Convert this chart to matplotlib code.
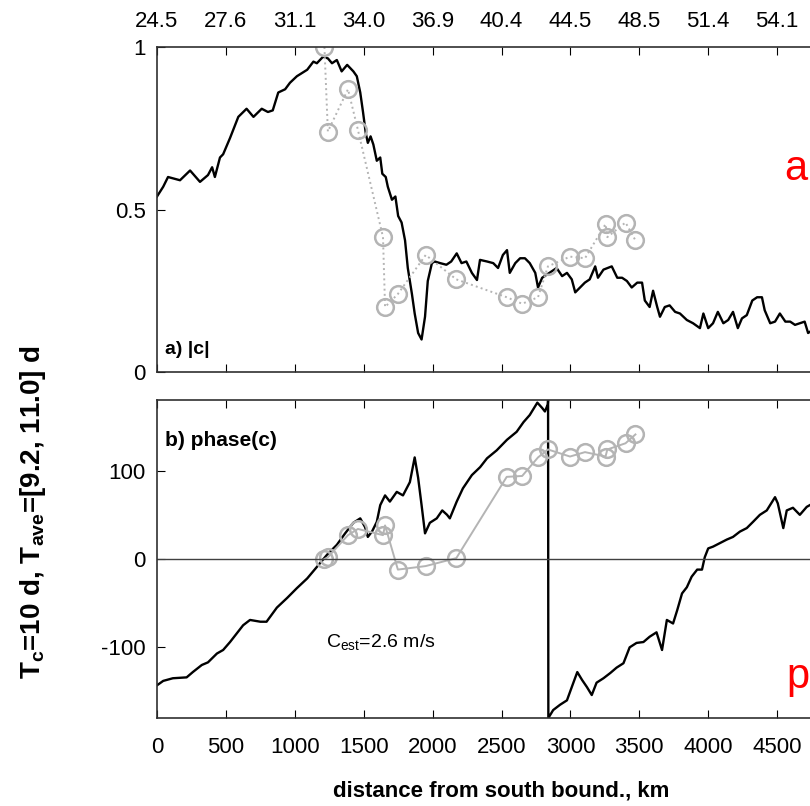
import numpy as np
import matplotlib.pyplot as plt

plt.rcParams['font.family'] = ['Liberation Sans', 'DejaVu Sans']
plt.rcParams['mathtext.fontset'] = 'custom'
plt.rcParams['mathtext.rm'] = 'Liberation Sans'
plt.rcParams['mathtext.it'] = 'Liberation Sans'
plt.rcParams['mathtext.bf'] = 'Liberation Sans:bold'
plt.rcParams['axes.unicode_minus'] = False

# tick positions (km) and the latitude labels on the top axis
dist_ticks = [0, 500, 1000, 1500, 2000, 2500, 3000, 3500, 4000, 4500]
lat_labels = ['24.5', '27.6', '31.1', '34.0', '36.9', '40.4', '44.5', '48.5', '51.4', '54.1']

# a) |c| model curve
amp_km = [0, 45, 80, 167, 240, 312, 370, 400, 420, 457, 480, 530, 590, 650, 700, 760, 805, 840,
          880, 930, 965, 1015, 1090, 1135, 1160, 1205, 1240, 1270, 1305, 1340, 1380, 1425, 1450,
          1475, 1495, 1515, 1530, 1550, 1570, 1595, 1620, 1635, 1660, 1675, 1705, 1730, 1750,
          1775, 1800, 1820, 1850, 1870, 1895, 1920, 1945, 1965, 1995, 2015, 2055, 2100, 2135,
          2175, 2210, 2245, 2285, 2322, 2344, 2395, 2440, 2475, 2510, 2540, 2560, 2600, 2635,
          2670, 2705, 2745, 2765, 2795, 2830, 2865, 2900, 2940, 2975, 3010, 3035, 3070, 3105,
          3140, 3180, 3200, 3240, 3300, 3340, 3375, 3410, 3445, 3485, 3520, 3540, 3575, 3600,
          3630, 3650, 3685, 3720, 3760, 3795, 3845, 3890, 3940, 3965, 4000, 4035, 4070, 4110,
          4145, 4180, 4215, 4245, 4280, 4320, 4355, 4390, 4410, 4450, 4485, 4520, 4560, 4595,
          4630, 4665, 4700, 4725, 4760, 4800]
amp_val = [0.54, 0.57, 0.60, 0.59, 0.62, 0.585, 0.606, 0.63, 0.60, 0.66, 0.67, 0.72, 0.785, 0.81,
           0.785, 0.81, 0.80, 0.805, 0.86, 0.87, 0.89, 0.91, 0.93, 0.955, 0.95, 0.97, 0.965, 0.95,
           0.96, 0.925, 0.945, 0.925, 0.91, 0.86, 0.80, 0.735, 0.705, 0.725, 0.70, 0.65, 0.66,
           0.61, 0.60, 0.57, 0.53, 0.54, 0.48, 0.46, 0.405, 0.32, 0.24, 0.18, 0.12, 0.10, 0.17,
           0.28, 0.335, 0.34, 0.335, 0.33, 0.34, 0.365, 0.335, 0.34, 0.305, 0.283, 0.345, 0.34,
           0.335, 0.32, 0.36, 0.375, 0.305, 0.335, 0.35, 0.35, 0.335, 0.305, 0.26, 0.29, 0.30,
           0.31, 0.32, 0.295, 0.305, 0.285, 0.245, 0.26, 0.275, 0.285, 0.325, 0.29, 0.315, 0.325,
           0.29, 0.29, 0.28, 0.26, 0.275, 0.275, 0.22, 0.20, 0.25, 0.20, 0.17, 0.20, 0.205, 0.185,
           0.18, 0.16, 0.15, 0.135, 0.18, 0.135, 0.15, 0.185, 0.15, 0.16, 0.185, 0.135, 0.165,
           0.175, 0.22, 0.23, 0.23, 0.19, 0.15, 0.155, 0.18, 0.155, 0.155, 0.145, 0.15, 0.155,
           0.12, 0.13, 0.13]

# b) phase(c) model curve (wraps from +180 to -180 near 2840 km)
phase_km = [0, 45, 115, 215, 260, 325, 370, 435, 480, 530, 580, 625, 675, 750, 795, 870, 945,
            1015, 1090, 1160, 1235, 1305, 1365, 1425, 1475, 1510, 1530, 1560, 1595, 1620, 1655,
            1690, 1740, 1785, 1835, 1870, 1895, 1920, 1945, 1980, 2030, 2070, 2105, 2125, 2175,
            2220, 2285, 2345, 2395, 2465, 2540, 2610, 2660, 2705, 2760, 2795, 2815, 2836, 2838,
            2840, 2875, 2925, 2975, 3010, 3050, 3085, 3120, 3155, 3190, 3240, 3290, 3335, 3385,
            3430, 3480, 3530, 3575, 3625, 3665, 3700, 3745, 3775, 3810, 3845, 3880, 3920, 3955,
            3975, 4000, 4035, 4085, 4135, 4180, 4230, 4280, 4325, 4375, 4425, 4485, 4505, 4545,
            4570, 4615, 4665, 4715, 4760]
phase_val = [-143, -138, -135, -134, -128, -120, -117, -107, -103, -94, -84, -75, -69, -71, -71,
             -55, -44, -33, -22, -9, 5, 16, 29, 41, 46, 36, 25, 31, 42, 61, 72, 65, 76, 72, 87,
             115, 92, 61, 29, 41, 46, 55, 50, 46, 65, 80, 95, 104, 114, 123, 135, 144, 155, 163,
             177, 171, 167, 175, 180, -180, -171, -165, -160, -145, -128, -137, -145, -154, -140,
             -135, -129, -123, -118, -100, -95, -94, -88, -83, -103, -69, -73, -58, -39, -32, -20,
             -12, -12, 2, 12, 14, 18, 22, 25, 31, 35, 42, 50, 55, 70, 63, 35, 55, 58, 50, 59, 63]

# observed stations (grey circles)
obs_km = [1215, 1240, 1386, 1458, 1640, 1655, 1748, 1950, 2172, 2538, 2650, 2765, 2837,
          2997, 3106, 3255, 3268, 3400, 3472]
obs_amp = [1.0, 0.74, 0.87, 0.745, 0.415, 0.20, 0.24, 0.36, 0.285, 0.23, 0.21, 0.23, 0.325,
           0.355, 0.35, 0.455, 0.415, 0.46, 0.405]
obs_phase = [0, 2, 27, 34, 27, 38, -12, -8, 1, 93, 94, 115, 124, 116, 121, 116, 124, 131, 141]

fig = plt.figure(figsize=(8.1, 8.06), dpi=100)
ax1 = fig.add_axes([157 / 810, 1 - 372 / 806, 689 / 810, 325 / 806])
ax2 = fig.add_axes([157 / 810, 1 - 718 / 806, 689 / 810, 318 / 806])

grey = '#b4b4b4'

ax1.plot(amp_km, amp_val, color='black', lw=1.7)
ax1.plot(obs_km, obs_amp, color=grey, ls=':', lw=1.4, marker='o', ms=12,
         mfc='none', mec=grey, mew=1.8)
ax1.set_xlim(0, 5000)
ax1.set_ylim(0, 1)
ax1.set_yticks([0, 0.5, 1])
ax1.set_yticklabels(['0', '0.5', '1'])
ax1.set_xticks(dist_ticks)
ax1.set_xticklabels(lat_labels)
ax1.tick_params(axis='x', direction='in', length=6, top=True, bottom=True,
                labeltop=True, labelbottom=False, labelsize=16, pad=11)
ax1.tick_params(axis='y', direction='in', length=6, labelsize=16, pad=8)
ax1.text(0.012, 0.055, 'a) |c|', transform=ax1.transAxes, fontsize=14, fontweight='bold')

ax2.plot(phase_km, phase_val, color='black', lw=1.7)
ax2.plot(obs_km, obs_phase, color=grey, ls='-', lw=1.4, marker='o', ms=12,
         mfc='none', mec=grey, mew=1.8)
ax2.axhline(0, color='#404040', lw=1)
ax2.set_xlim(0, 5000)
ax2.set_ylim(-180, 180)
ax2.set_yticks([-100, 0, 100])
ax2.set_xticks(dist_ticks)
ax2.tick_params(axis='x', direction='in', length=6, top=True, bottom=True,
                labelsize=16, pad=14)
ax2.tick_params(axis='y', direction='in', length=6, labelsize=16, pad=8)
ax2.text(0.012, 0.855, 'b) phase(c)', transform=ax2.transAxes, fontsize=15, fontweight='bold')
ax2.text(1230, -100, r'C$_\mathrm{est}$=2.6 m/s', fontsize=14)
ax2.set_xlabel('distance from south bound., km', fontsize=16, fontweight='bold', labelpad=16)

for ax in (ax1, ax2):
    for sp in ax.spines.values():
        sp.set_color('#303030')
        sp.set_linewidth(1.2)

fig.text(33 / 810, 1 - 512 / 806, r'T$_\mathbf{c}$=10 d, T$_\mathbf{ave}$=[9.2, 11.0] d',
         rotation=90, ha='center', va='center', fontsize=20, fontweight='bold')

fig.text(784 / 810, 1 - 180 / 806, 'a', color='red', fontsize=30, va='baseline')
fig.text(786 / 810, 1 - 688 / 806, 'p', color='red', fontsize=30, va='baseline')

fig.savefig('out.png', dpi=100)
